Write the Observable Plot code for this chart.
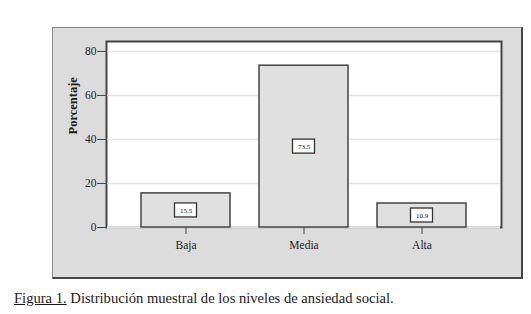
<!DOCTYPE html>
<html>
<head>
<meta charset="utf-8">
<script src="https://cdn.jsdelivr.net/npm/d3@7"></script>
<script src="https://cdn.jsdelivr.net/npm/@observablehq/plot@0.6"></script>
<style>
  html, body { margin: 0; padding: 0; background: #fff; }
  #wrap { position: relative; width: 531px; height: 314px; overflow: hidden; }
  #panel { position: absolute; left: 52px; top: 27px; width: 468px; height: 249px;
           background: #dcdcdc; border-left: 1px solid #8a8a8a; border-top: 1px solid #8a8a8a;
           border-right: 2px solid #444; border-bottom: 2px solid #444; }
  #chart { position: absolute; left: 0; top: 0; }
  #chart svg, #chart svg text { font-family: "Liberation Serif", "Times New Roman", Tinos, "DejaVu Serif", serif !important; }
  #caption { position: absolute; left: 14px; top: 291px; font-family: "Liberation Serif", "Times New Roman", Tinos, "DejaVu Serif", serif;
             font-size: 14.6px; line-height: 14px; color: #1a1a1a; white-space: nowrap; }
  #caption u { text-decoration: underline; }
</style>
</head>
<body>
<div id="wrap">
  <div id="panel"></div>
  <div id="chart"></div>
  <div id="caption"><u>Figura 1.</u> Distribución muestral de los niveles de ansiedad social.</div>
</div>
<script>
const categories = ["Baja", "Media", "Alta"];
const values = [15.5, 73.5, 10.9];
const valueLabels = ["15.5", "73.5", "10.9"];
const yTicks = [0, 20, 40, 60, 80];
const yLabel = "Porcentaje";

const data = categories.map((c, i) => ({cat: c, v: values[i], lab: valueLabels[i]}));

const chart = Plot.plot({
  width: 531,
  height: 280,
  marginLeft: 106,
  marginRight: 30,
  marginTop: 41,
  marginBottom: 53,
  style: {fontFamily: "'Liberation Serif', 'Times New Roman', serif", fontSize: "11px", background: "transparent", color: "#222"},
  x: {domain: categories, paddingInner: 0.25, paddingOuter: 0.29, label: null},
  y: {domain: [0, 84.5], label: null},
  marks: [
    Plot.frame({fill: "white", stroke: "#444", strokeWidth: 2}),
    Plot.gridY(yTicks.filter(t => t > 0), {stroke: "#e4e4e4", strokeOpacity: 1, strokeWidth: 1.5, insetLeft: 1, insetRight: 1}),
    Plot.ruleY([0], {stroke: "#e4e4e4", strokeWidth: 2.6, insetLeft: 1, insetRight: 1}),
    Plot.barY(data, {x: "cat", y: "v", fill: "#e0e0e0", stroke: "#444", strokeWidth: 1.5}),
    Plot.barY(data, {x: "cat", y1: d => d.v / 2, y2: d => d.v / 2, insetLeft: 33.5, insetRight: 33.5,
                     insetTop: -7, insetBottom: -7, fill: "white", stroke: "#333", strokeWidth: 1.3}),
    Plot.text(data, {x: "cat", y: d => d.v / 2, text: "lab", fontSize: 7, fill: "#111"}),
    Plot.axisY(yTicks, {tickSize: 9, tickPadding: 1, label: null, stroke: "#444", fill: "#222", fontSize: 11.5}),
    Plot.axisX({tickSize: 7, tickPadding: 6, label: null, stroke: "#444", fill: "#222", fontSize: 11.5}),
    Plot.text([yLabel], {frameAnchor: "left", dx: -34, rotate: -90, fontWeight: "bold", fontSize: 12.5, fill: "#1a1a1a"})
  ]
});
document.getElementById("chart").appendChild(chart);
</script>
</body>
</html>
